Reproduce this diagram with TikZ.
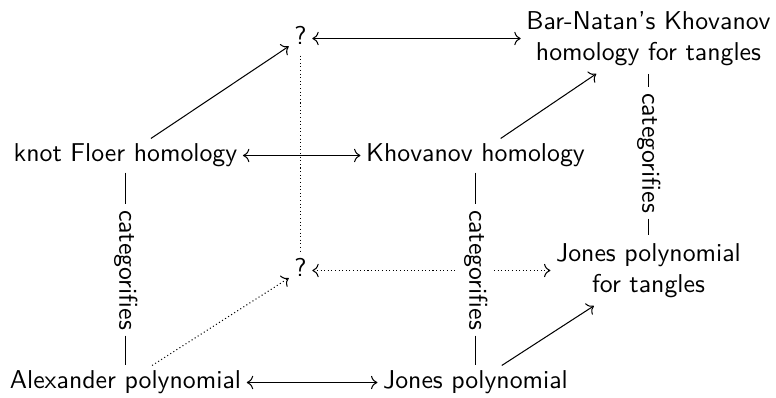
\documentclass[tikz,border=0pt]{standalone}
\usetikzlibrary{arrows.meta}
\begin{document}
\begin{tikzpicture}[x=0.3876pt, y=-0.3876pt,
  every node/.style={font=\sffamily},
  cell/.style={inner xsep=2pt, inner ysep=2pt, text height=6.9pt, text depth=1.9pt},
  cell2/.style={inner xsep=2pt, inner ysep=1.5pt, align=center},
  lbl/.style={rotate=-90, fill=white, inner xsep=2pt, inner ysep=1.2pt},
  arr/.style={-{Computer Modern Rightarrow}},
  biarr/.style={{Computer Modern Rightarrow}-{Computer Modern Rightarrow}},
  dots/.style={densely dotted}]
\useasboundingbox (0,0) rectangle (776,398);

% the eight corners of the cube
\node[cell] (q1) at (300.5,38.5) {?};
\node[cell2] (bn) at (648.5,38.5) {\strut Bar-Natan's Khovanov\\\strut homology for tangles};
\node[cell] (kfh) at (125.5,155.5) {knot Floer homology};
\node[cell] (kh) at (475.5,155.5) {Khovanov homology};
\node[cell] (q2) at (300.5,270.5) {?};
\node[cell2] (jt) at (648.5,270.5) {\strut Jones polynomial\\\strut for tangles};
\node[cell] (alex) at (125.5,382.5) {Alexander polynomial};
\node[cell] (jp) at (475.5,382.5) {Jones polynomial};

% hidden edges
\draw[dots] (q1) -- (q2);
\draw[dots, biarr] (q2) -- (jt);
\draw[dots, arr] (alex) -- (q2);

% categorification labels
\node[lbl] (c1) at (125.5,270) {\strut categorifies};
\node[lbl] (c2) at (475.5,270) {\strut categorifies};
\node[lbl] (c3) at (648.5,153) {\strut categorifies};

% visible edges
\draw[biarr] (q1) -- (bn);
\draw[biarr] (kfh) -- (kh);
\draw[biarr] (alex) -- (jp);
\draw[arr] (kfh) -- (q1);
\draw[arr] (kh) -- (bn);
\draw[arr] (jp) -- (jt);
\draw (kfh) -- (c1) -- (alex);
\draw (kh) -- (c2) -- (jp);
\draw (bn) -- (c3) -- (jt);
\end{tikzpicture}
\end{document}
